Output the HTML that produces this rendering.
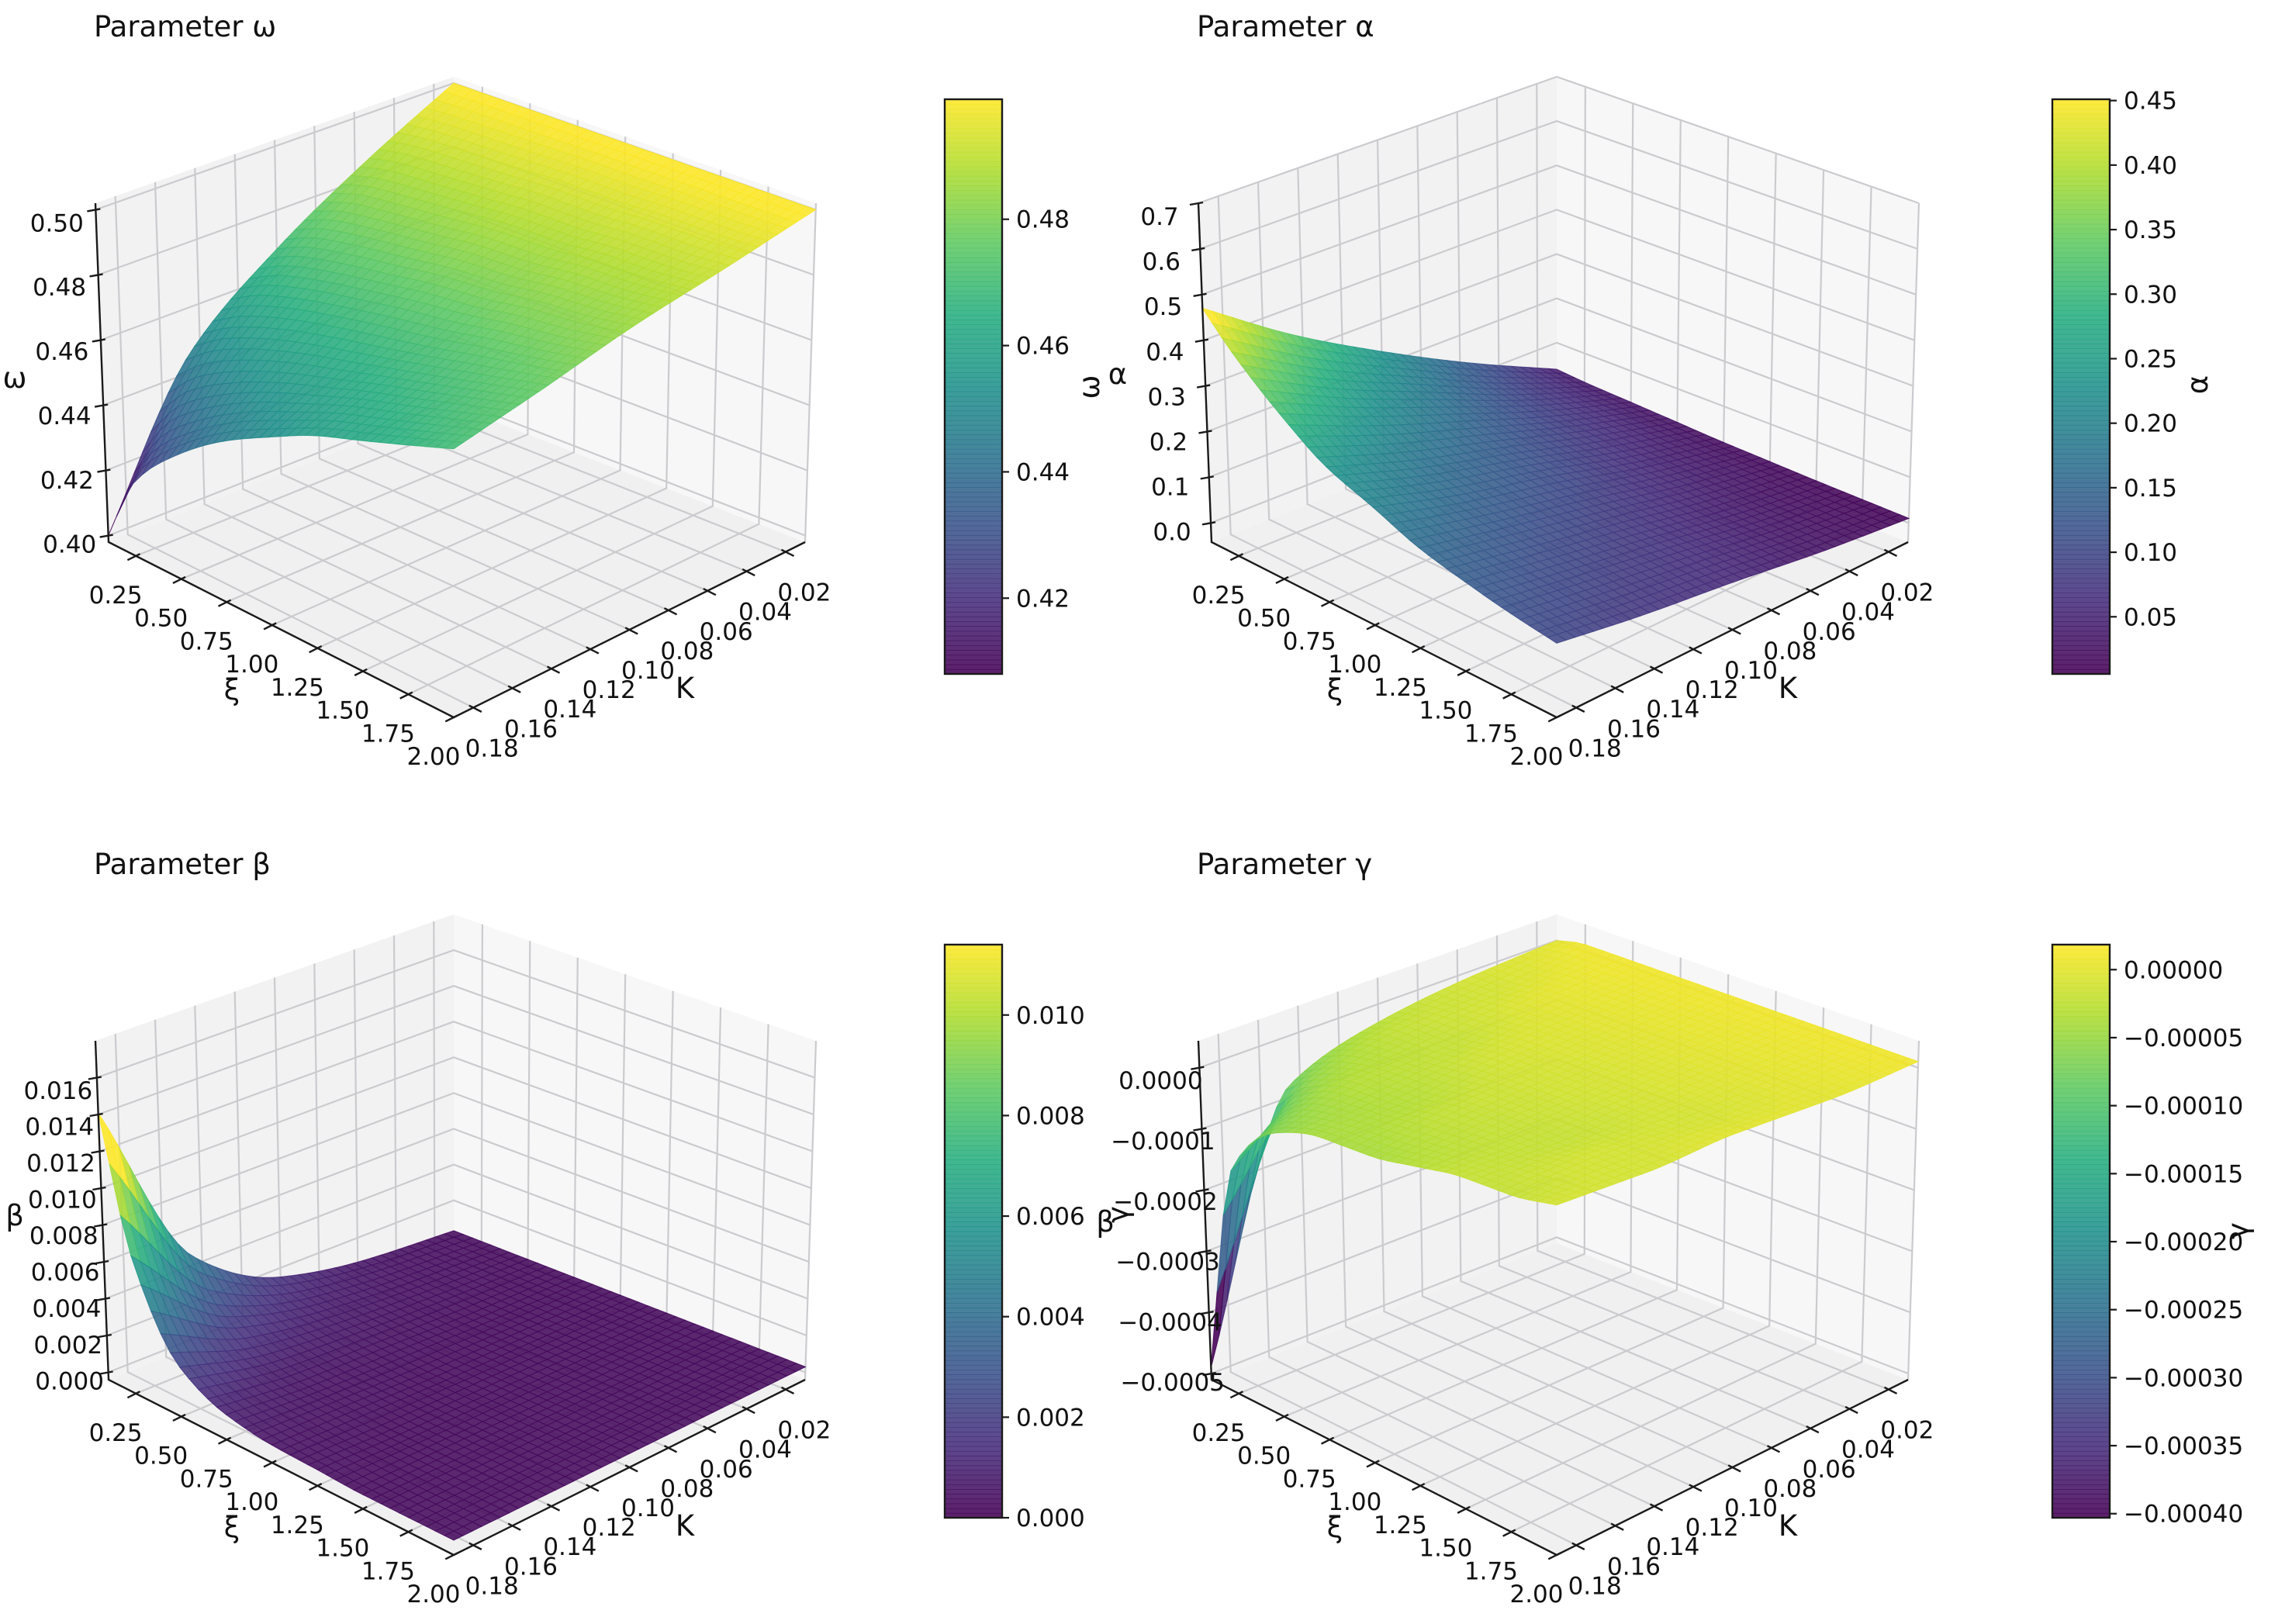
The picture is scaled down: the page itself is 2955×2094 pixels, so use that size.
<!DOCTYPE html>
<html><head><meta charset="utf-8">
<style>
html,body{margin:0;padding:0;background:#fff;}
svg{display:block;font-family:"DejaVu Sans","Liberation Sans",sans-serif;}
</style></head>
<body>
<svg id="fig" width="2955" height="2094" viewBox="0 0 2955 2094" xmlns="http://www.w3.org/2000/svg">
<rect width="2955" height="2094" fill="#ffffff"/>
</svg>
<script>
// ---- shared grid coordinates ----
const xiVals = [0.1, 0.25, 0.5, 0.75, 1.0, 1.25, 1.5, 1.75, 2.0];
const kVals = [0.01, 0.055, 0.10, 0.145, 0.19];
const xiTicks = [0.25, 0.5, 0.75, 1.0, 1.25, 1.5, 1.75, 2.0];
const kTicks = [0.02, 0.04, 0.06, 0.08, 0.10, 0.12, 0.14, 0.16, 0.18];
// ---- omega surface (rows: xi, cols: K) ----
const omegaVals = [
 [.500,.485,.468,.446,.400],
 [.500,.487,.472,.452,.420],
 [.500,.488,.475,.458,.435],
 [.500,.489,.477,.462,.445],
 [.500,.490,.479,.465,.452],
 [.500,.490,.480,.468,.458],
 [.500,.491,.482,.471,.462],
 [.500,.491,.483,.474,.466],
 [.500,.492,.485,.477,.470]];
const omegaZTicks = [0.40,0.42,0.44,0.46,0.48,0.50];
const omegaCbTicks = [0.42,0.44,0.46,0.48];
// ---- alpha surface ----
const alphaVals = [
 [.040,.130,.230,.340,.470],
 [.035,.110,.200,.290,.400],
 [.030,.090,.160,.230,.310],
 [.025,.075,.130,.180,.240],
 [.020,.060,.110,.150,.200],
 [.017,.050,.090,.125,.160],
 [.014,.040,.075,.105,.135],
 [.012,.035,.065,.090,.115],
 [.010,.030,.055,.075,.100]];
const alphaZTicks = [0.0,0.1,0.2,0.3,0.4,0.5,0.6,0.7];
const alphaCbTicks = [0.05,0.10,0.15,0.20,0.25,0.30,0.35,0.40,0.45];
// ---- beta surface ----
const betaVals = [
 [.0003,.0006,.0015,.0045,.0141],
 [.0003,.0005,.0010,.0025,.0070],
 [.0003,.0004,.0006,.0010,.0022],
 [.0003,.0003,.0004,.0005,.0009],
 [.0003,.0003,.0003,.0004,.0005],
 [.0003,.0003,.0003,.0003,.0004],
 [.0003,.0003,.0003,.0003,.0003],
 [.0003,.0003,.0003,.0003,.0003],
 [.0003,.0003,.0003,.0003,.0003]];
const betaZTicks = [0,0.002,0.004,0.006,0.008,0.010,0.012,0.014,0.016];
const betaCbTicks = [0,0.002,0.004,0.006,0.008,0.010];
// ---- gamma surface ----
const gammaVals = [
 [ .00000,-.00001,-.00003,-.00008,-.00049],
 [ .00001,-.00001,-.00002,-.00005,-.00015],
 [ .00001, .00000,-.00002,-.00003,-.00006],
 [ .00001, .00000,-.00001,-.00003,-.00004],
 [ .00001, .00000,-.00001,-.00002,-.00004],
 [ .00001, .00000,-.00001,-.00002,-.00003],
 [ .00001, .00000,-.00001,-.00002,-.00002],
 [ .00001, .00000,-.00001,-.00001,-.00002],
 [ .00001, .00000, .00000,-.00001,-.00001]];
const gammaZTicks = [-0.0005,-0.0004,-0.0003,-0.0002,-0.0001,0];
const gammaCbTicks = [-0.0004,-0.00035,-0.0003,-0.00025,-0.0002,-0.00015,-0.0001,-0.00005,0];

const NS = "http://www.w3.org/2000/svg";
const svg = document.getElementById('fig');
function mk(tag, attrs, parent){
  const e = document.createElementNS(NS, tag);
  for (const k in attrs) e.setAttribute(k, attrs[k]);
  (parent||svg).appendChild(e);
  return e;
}
const VIR = ["#440154","#472d7b","#3b528b","#2c728e","#21918c","#28ae80","#5ec962","#addc30","#fde725"];
function hex2rgb(h){return [parseInt(h.substr(1,2),16),parseInt(h.substr(3,2),16),parseInt(h.substr(5,2),16)];}
const VIRRGB = VIR.map(hex2rgb);
function viridis(t){
  t=Math.max(0,Math.min(1,t)); const s=t*(VIRRGB.length-1); const i=Math.min(VIRRGB.length-2,Math.floor(s)); const f=s-i;
  const a=VIRRGB[i], b=VIRRGB[i+1];
  return 'rgb('+[0,1,2].map(c=>Math.round(a[c]+(b[c]-a[c])*f)).join(',')+')';
}
function fmt(v, d){ const s=Math.abs(v).toFixed(d); return (v<-1e-12?'\u2212':'')+s; }

const C = {B:[585,523],TB:[585,99],L:[140,699],TL:[123,262],R:[1038,699],TR:[1052,262],F:[585,925],TF:[585,425]};
function mix4(a,b,c,d,xf,kf){
  return [0,1].map(i=>(1-xf)*(1-kf)*a[i]+(1-xf)*kf*b[i]+xf*(1-kf)*c[i]+xf*kf*d[i]);
}
function proj(P, xf, kf, zf){
  const b = mix4(C.B,C.L,C.R,C.F,xf,kf), t = mix4(C.TB,C.TL,C.TR,C.TF,xf,kf);
  return [P.ox + b[0]+(t[0]-b[0])*zf, P.oy + b[1]+(t[1]-b[1])*zf];
}
function pchip(xs, ys, x){
  const n=xs.length;
  if (x<=xs[0]) return ys[0]; if (x>=xs[n-1]) return ys[n-1];
  const h=[], d=[];
  for (let i=0;i<n-1;i++){h.push(xs[i+1]-xs[i]); d.push((ys[i+1]-ys[i])/h[i]);}
  const m=new Array(n);
  m[0]=d[0]; m[n-1]=d[n-2];
  for (let i=1;i<n-1;i++){
    if (d[i-1]*d[i]<=0) m[i]=0;
    else { const w1=2*h[i]+h[i-1], w2=h[i]+2*h[i-1]; m[i]=(w1+w2)/(w1/d[i-1]+w2/d[i]); }
  }
  let i=0; while (x>xs[i+1]) i++;
  const t=(x-xs[i])/h[i], t2=t*t, t3=t2*t;
  return (2*t3-3*t2+1)*ys[i]+(t3-2*t2+t)*h[i]*m[i]+(-2*t3+3*t2)*ys[i+1]+(t3-t2)*h[i]*m[i+1];
}
function sample(G, xi, k){
  const col = G.map(row=>pchip(kVals,row,k));
  return pchip(xiVals,col,xi);
}

const panels = [
 {key:'omega', title:'Parameter \u03c9', ox:0, oy:0, vals:omegaVals, zr:[0.398,0.502], zt:omegaZTicks, zd:2, cr:[0.408,0.499], ct:omegaCbTicks, cd:2,
  cb:[1218,128,74,741], zlabels:[['\u03c9',19,488,0]], cblabel:null},
 {key:'alpha', title:'Parameter \u03b1', ox:1422, oy:0, vals:alphaVals, zr:[-0.042,0.70], zt:alphaZTicks, zd:1, cr:[0.0057,0.451], ct:alphaCbTicks, cd:2,
  cb:[2646,128,74,741], zlabels:[['\u03c9',1405,499,-90],['\u03b1',1441,483,0]], cblabel:['\u03b1',2834,496]},
 {key:'beta', title:'Parameter \u03b2', ox:0, oy:1080, vals:betaVals, zr:[-0.0004,0.0180], zt:betaZTicks, zd:3, cr:[0,0.0114], ct:betaCbTicks, cd:3,
  cb:[1218,1218,74,739], zlabels:[['\u03b2',19,1568,0]], cblabel:null},
 {key:'gamma', title:'Parameter \u03b3', ox:1422, oy:1080, vals:gammaVals, zr:[-0.00051,0.000044], zt:gammaZTicks, zd:4, cr:[-0.000403,0.0000184], ct:gammaCbTicks, cd:5,
  cb:[2646,1218,74,739], zlabels:[['\u03b2',1425,1576,0],['\u03b3',1442,1566,-90]], cblabel:['\u03b3',2886,1587]}
];
const XI0=0.1, XI1=2.0, K0=0.01, K1=0.19;
const xfOf = v=>(v-XI0)/(XI1-XI0), kfOf = v=>(v-K0)/(K1-K0);
function pts(arr){return arr.map(p=>p[0].toFixed(1)+','+p[1].toFixed(1)).join(' ');}

panels.forEach(P=>{
  const g = mk('g',{});
  
  
  const zf = v=>(v-P.zr[0])/(P.zr[1]-P.zr[0]);
  const t = mk('text',{x:P.ox+121, y:P.oy+47, 'font-size':37, fill:'#111'}, g);
  t.textContent = P.title;
  
  
  const pl = mk('polygon',{points:pts([proj(P,0,0,0),proj(P,0,1,0),proj(P,0,1,1),proj(P,0,0,1)]), fill:'#f2f2f2'}, g);
  
  
  const pr = mk('polygon',{points:pts([proj(P,0,0,0),proj(P,1,0,0),proj(P,1,0,1),proj(P,0,0,1)]), fill:'#f7f7f7'}, g);
  
  
  const pf = mk('polygon',{points:pts([proj(P,0,0,0),proj(P,0,1,0),proj(P,1,1,0),proj(P,1,0,0)]), fill:'#f0f0f0'}, g);
  
  
  const gg = mk('g',{stroke:'#cbcbcf','stroke-width':2.2, fill:'none'}, g);
  
  
  kTicks.forEach(k=>{const kf=kfOf(k);
    mk('polyline',{points:pts([proj(P,1,kf,0),proj(P,0,kf,0),proj(P,0,kf,1)])}, gg);});
  xiTicks.forEach(x=>{const xf=xfOf(x);
    mk('polyline',{points:pts([proj(P,xf,1,0),proj(P,xf,0,0),proj(P,xf,0,1)])}, gg);});
  P.zt.forEach(z=>{const f=zf(z);
    mk('polyline',{points:pts([proj(P,0,1,f),proj(P,0,0,f),proj(P,1,0,f)])}, gg);});
  const sg = mk('g',{}, g);
  
  
  const N=38, M=38;
  const Z=[]; const XP=[];
  for (let i=0;i<=N;i++){Z.push([]);XP.push([]);
    for (let j=0;j<=M;j++){
      const xi=XI0+(XI1-XI0)*i/N, k=K0+(K1-K0)*j/M;
      const v=sample(P.vals, xi, k); Z[i].push(v);
      XP[i].push(proj(P,i/N,j/M,zf(v)));
    }}
  const quads=[];
  for (let i=0;i<N;i++) for (let j=0;j<M;j++) quads.push([i,j]);
  quads.sort((a,b)=>(a[0]+a[1])-(b[0]+b[1]));
  quads.forEach(([i,j])=>{
    const v=(Z[i][j]+Z[i+1][j]+Z[i][j+1]+Z[i+1][j+1])/4;
    const c=viridis((v-P.cr[0])/(P.cr[1]-P.cr[0]));
    mk('polygon',{points:pts([XP[i][j],XP[i+1][j],XP[i+1][j+1],XP[i][j+1]]), fill:c, 'fill-opacity':0.88, stroke:c, 'stroke-opacity':0.9, 'stroke-width':1}, sg);
  });
  const ax = mk('g',{stroke:'#1a1a1a','stroke-width':2.4, fill:'none'}, g);
  
  
  mk('polyline',{points:pts([proj(P,0,1,1),proj(P,0,1,0),proj(P,1,1,0),proj(P,1,0,0)])}, ax);
  const lab = mk('g',{'font-size':31, fill:'#111','text-anchor':'middle'}, g);
  
  
  const F=proj(P,1,1,0), R=proj(P,1,0,0), L=proj(P,0,1,0);
  const uK=[(R[0]-F[0]),(R[1]-F[1])]; let n=Math.hypot(...uK); uK[0]/=n; uK[1]/=n;
  const uX=[(F[0]-L[0]),(F[1]-L[1])]; n=Math.hypot(...uX); uX[0]/=n; uX[1]/=n;
  xiTicks.forEach(x=>{const p=proj(P,xfOf(x),1,0);
    mk('line',{x1:p[0]-12*uK[0],y1:p[1]-12*uK[1],x2:p[0]+6*uK[0],y2:p[1]+6*uK[1]}, ax);
    const tx=mk('text',{x:p[0]-26,y:p[1]+61}, lab); tx.textContent=x.toFixed(2);});
  kTicks.forEach(k=>{const p=proj(P,1,kfOf(k),0);
    mk('line',{x1:p[0]+12*uX[0],y1:p[1]+12*uX[1],x2:p[0]-6*uX[0],y2:p[1]-6*uX[1]}, ax);
    const tx=mk('text',{x:p[0]+24,y:p[1]+63}, lab); tx.textContent=k.toFixed(2);});
  P.zt.forEach(z=>{const f=zf(z); const p=proj(P,0,1,f);
    mk('line',{x1:p[0]-11,y1:p[1]+2,x2:p[0]+6,y2:p[1]-1}, ax);
    const tx=mk('text',{x:p[0]-50,y:p[1]+22+6*f}, lab); tx.textContent=fmt(z,P.zd);});
  const xl=mk('text',{x:P.ox+299,y:P.oy+902,'font-size':37,'text-anchor':'middle',fill:'#111'}, g); xl.textContent='\u03be';
  
  
  const kl=mk('text',{x:P.ox+883,y:P.oy+900,'font-size':37,'text-anchor':'middle',fill:'#111'}, g); kl.textContent='K';
  
  
  P.zlabels.forEach(([s,x,y,rot])=>{
    const e=mk('text',{x:x,y:y+12,'font-size':37,'text-anchor':'middle',fill:'#111',transform:'rotate('+rot+' '+x+' '+y+')'}, g); e.textContent=s;
    
    
  });
  const [cx,cy,cw,ch]=P.cb;
  const cbg = mk('g',{}, g);
  
  
  const steps=120;
  for (let s=0;s<steps;s++){
    mk('rect',{x:cx,y:cy+ch*s/steps,width:cw,height:ch/steps+0.8,fill:viridis(1-(s+0.5)/steps),'fill-opacity':0.88}, cbg);
  }
  mk('rect',{x:cx,y:cy,width:cw,height:ch,fill:'none',stroke:'#1a1a1a','stroke-width':2.4}, cbg);
  P.ct.forEach(v=>{const y=cy+ch*(1-(v-P.cr[0])/(P.cr[1]-P.cr[0]));
    mk('line',{x1:cx+cw,y1:y,x2:cx+cw+9,y2:y,stroke:'#1a1a1a','stroke-width':2.2}, cbg);
    const tx=mk('text',{x:cx+cw+18,y:y+11,'font-size':31,fill:'#111'}, cbg); tx.textContent=fmt(v,P.cd);});
  if (P.cblabel){const [s,x,y]=P.cblabel;
    const e=mk('text',{x:x,y:y+12,'font-size':37,'text-anchor':'middle',fill:'#111',transform:'rotate(-90 '+x+' '+y+')'}, cbg); e.textContent=s;
    
    
  }
});
</script>
</body></html>
